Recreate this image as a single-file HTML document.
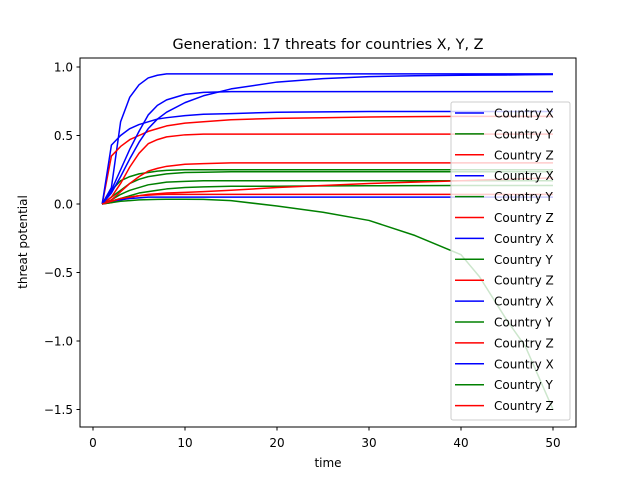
<!DOCTYPE html>
<html><head><meta charset="utf-8"><style>
body{margin:0;background:#fff}
text{font-family:"DejaVu Sans","Liberation Sans",sans-serif}
</style></head><body>
<svg id="chart" width="640" height="480" xmlns="http://www.w3.org/2000/svg">
<rect width="640" height="480" fill="#fff"/>
<text x="328" y="49" font-size="14.4" text-anchor="middle">Generation: 17 threats for countries X, Y, Z</text>
<g id="plot"></g>
<rect x="80" y="58" width="496" height="369" fill="none" stroke="#000" stroke-width="1"/>
<g id="axes"></g>
<text x="328" y="467" font-size="12" text-anchor="middle">time</text>
<text transform="translate(27,242) rotate(-90)" font-size="12" text-anchor="middle">threat potential</text>
<g id="legend"></g>
</svg>
<script>
const times=[1,2,3,4,5,6,7,8,10,12,15,20,25,30,35,40,42,45,47,50];
const labels=["Country X","Country Y","Country Z","Country X","Country Y","Country Z","Country X","Country Y","Country Z","Country X","Country Y","Country Z","Country X","Country Y","Country Z"];
const colors=["blue","green","red"];
const sX1=[0,0.12,0.6,0.78,0.87,0.92,0.94,0.95,0.95,0.95,0.95,0.95,0.95,0.95,0.95,0.95,0.95,0.95,0.95,0.95];
const sY1=[0,0.1,0.17,0.2,0.22,0.23,0.24,0.245,0.25,0.25,0.25,0.25,0.25,0.25,0.25,0.25,0.25,0.25,0.25,0.25];
const sZ1=[0,0.35,0.42,0.47,0.5,0.53,0.55,0.57,0.59,0.6,0.615,0.625,0.63,0.635,0.638,0.64,0.64,0.64,0.64,0.64];
const sX2=[0,0.43,0.5,0.55,0.58,0.6,0.62,0.63,0.645,0.655,0.66,0.67,0.672,0.675,0.675,0.675,0.675,0.675,0.675,0.675];
const sY2=[0,0.05,0.1,0.15,0.18,0.2,0.21,0.22,0.23,0.232,0.235,0.235,0.235,0.235,0.235,0.235,0.235,0.235,0.235,0.235];
const sZ2=[0,0.05,0.15,0.27,0.37,0.44,0.47,0.49,0.505,0.51,0.51,0.51,0.51,0.51,0.51,0.51,0.51,0.51,0.51,0.51];
const sX3=[0,0.08,0.2,0.33,0.45,0.55,0.62,0.67,0.74,0.79,0.84,0.89,0.915,0.93,0.936,0.94,0.941,0.942,0.943,0.945];
const sY3=[0,0.03,0.07,0.1,0.12,0.14,0.15,0.16,0.165,0.17,0.17,0.17,0.17,0.17,0.17,0.17,0.17,0.17,0.17,0.17];
const sZ3=[0,0.03,0.09,0.15,0.2,0.24,0.26,0.275,0.29,0.295,0.3,0.3,0.3,0.3,0.3,0.3,0.3,0.3,0.3,0.3];
const sX4=[0,0.1,0.25,0.4,0.53,0.65,0.72,0.76,0.8,0.815,0.82,0.82,0.82,0.82,0.82,0.82,0.82,0.82,0.82,0.82];
const sY4=[0,0.02,0.04,0.06,0.08,0.09,0.1,0.11,0.12,0.125,0.13,0.13,0.132,0.133,0.134,0.135,0.135,0.135,0.135,0.135];
const sZ4=[0,0.01,0.03,0.05,0.06,0.07,0.075,0.08,0.085,0.09,0.1,0.12,0.135,0.15,0.16,0.17,0.175,0.18,0.185,0.19];
const sX5=[0,0.02,0.03,0.04,0.045,0.05,0.05,0.05,0.05,0.05,0.05,0.05,0.05,0.05,0.05,0.05,0.05,0.05,0.05,0.05];
const sY5=[0,0.01,0.02,0.025,0.03,0.032,0.034,0.035,0.035,0.034,0.025,-0.015,-0.06,-0.12,-0.23,-0.37,-0.53,-0.85,-1.04,-1.5];
const sZ5=[0,0.02,0.04,0.05,0.06,0.065,0.068,0.07,0.07,0.07,0.07,0.07,0.07,0.07,0.07,0.07,0.07,0.07,0.07,0.07];
const series=[sX1,sY1,sZ1,sX2,sY2,sZ2,sX3,sY3,sZ3,sX4,sY4,sZ4,sX5,sY5,sZ5];
const xTicks=[0,10,20,30,40,50];
const yTicks=[1.0,0.5,0.0,-0.5,-1.0,-1.5];
const yTickLabels=["1.0","0.5","0.0","−0.5","−1.0","−1.5"];
const NS="http://www.w3.org/2000/svg";
const xs=t=>93+t*9.2;
const ys=v=>204-v*137;
const plot=document.getElementById('plot');
series.forEach((s,i)=>{
  const p=document.createElementNS(NS,'polyline');
  p.setAttribute('points',s.map((v,j)=>xs(times[j])+','+ys(v)).join(' '));
  p.setAttribute('fill','none');p.setAttribute('stroke',colors[i%3]);p.setAttribute('stroke-width','1.5');
  p.setAttribute('stroke-linejoin','round');
  
  
  plot.appendChild(p);
});
const axes=document.getElementById('axes');
xTicks.forEach(t=>{
  const x=xs(t);
  const l=document.createElementNS(NS,'line');
  l.setAttribute('x1',x);l.setAttribute('x2',x);l.setAttribute('y1',427);l.setAttribute('y2',430.5);l.setAttribute('stroke','#000');
  
  
  axes.appendChild(l);
  const tx=document.createElementNS(NS,'text');
  tx.setAttribute('x',x);tx.setAttribute('y',447);tx.setAttribute('font-size','12');tx.setAttribute('text-anchor','middle');
  tx.textContent=t;
  
  
  axes.appendChild(tx);
});
yTicks.forEach((v,i)=>{
  const y=ys(v);
  const l=document.createElementNS(NS,'line');
  l.setAttribute('x1',76.5);l.setAttribute('x2',80);l.setAttribute('y1',y);l.setAttribute('y2',y);l.setAttribute('stroke','#000');
  
  
  axes.appendChild(l);
  const tx=document.createElementNS(NS,'text');
  tx.setAttribute('x',73);tx.setAttribute('y',y+4.5);tx.setAttribute('font-size','12');tx.setAttribute('text-anchor','end');
  tx.textContent=yTickLabels[i];
  
  
  axes.appendChild(tx);
});
const lg=document.getElementById('legend');
const box=document.createElementNS(NS,'rect');
box.setAttribute('x',451);box.setAttribute('y',102);box.setAttribute('width',119);box.setAttribute('height',318);box.setAttribute('rx',2);
box.setAttribute('fill','rgba(255,255,255,0.8)');box.setAttribute('stroke','#ccc');


lg.appendChild(box);
labels.forEach((lab,i)=>{
  const y=113+i*20.9;
  const l=document.createElementNS(NS,'line');
  l.setAttribute('x1',455);l.setAttribute('x2',484);l.setAttribute('y1',y);l.setAttribute('y2',y);
  l.setAttribute('stroke',colors[i%3]);l.setAttribute('stroke-width','1.5');
  
  
  lg.appendChild(l);
  const t=document.createElementNS(NS,'text');
  t.setAttribute('x',494);t.setAttribute('y',y+4.5);t.setAttribute('font-size','12');
  t.textContent=lab;
  
  
  lg.appendChild(t);
});
</script>
</body></html>
